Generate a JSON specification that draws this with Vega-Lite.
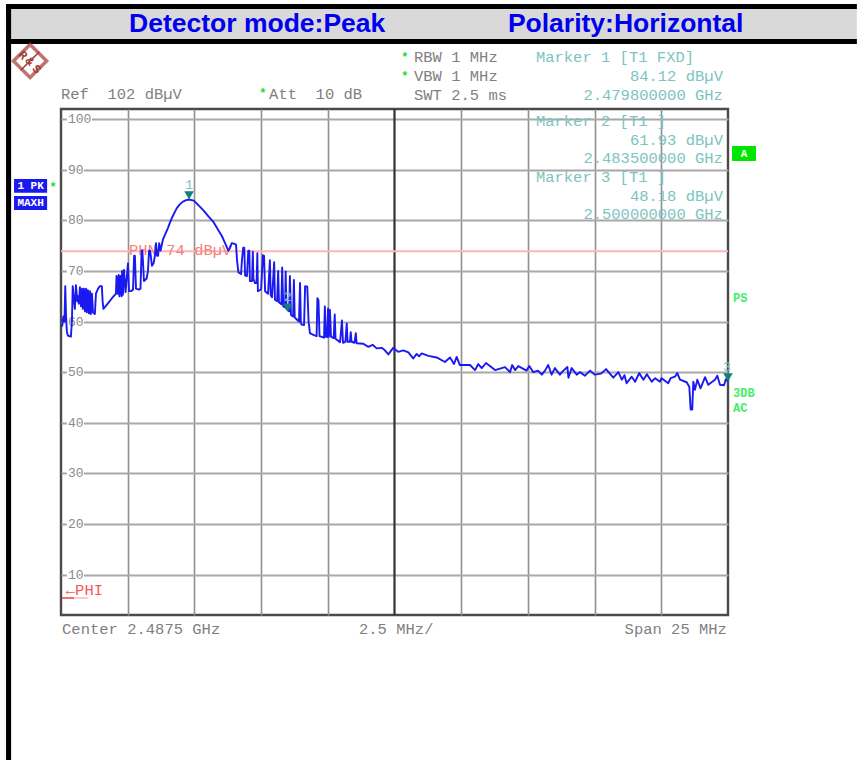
{
"$schema":"https://vega.github.io/schema/vega-lite/v6.json",
"width":667,"height":506,"autosize":"none",
"padding":{"left":61,"top":109,"right":129,"bottom":145},
"background":"white",
"config":{"view":{"stroke":"#4a4a4a","strokeWidth":2.4},"text":{"font":"Liberation Mono","fontSize":15.5,"baseline":"middle"}},
"encoding":{
"x":{"field":"mhz","type":"quantitative","title":null,"scale":{"domain":[2475,2500],"nice":false,"zero":false},"axis":{"values":[2477.5,2480,2482.5,2485,2490,2492.5,2495,2497.5],"grid":true,"gridColor":"#8f8f8f","gridWidth":1.6,"labels":false,"ticks":false,"domain":false}},
"y":{"field":"db","type":"quantitative","title":null,"scale":{"domain":[2,102],"nice":false,"zero":false},"axis":{"values":[10,20,30,40,50,60,70,80,90,100],"grid":true,"gridColor":"#a8a8a8","gridWidth":1.8,"ticks":false,"domain":false,"labels":false}}
},
"layer":[
{"data":{"values":[
{"part":"band","mhz":2473.13,"mhz2":2504.83,"db":121.76,"db2":115.83}
]},"mark":{"type":"rect","fill":"#d9d9d9"},"encoding":{"x2":{"field":"mhz2"},"y2":{"field":"db2"}}},
{"data":{"values":[
{"part":"top","mhz":2472.94,"mhz2":2504.83,"db":122.75,"db2":121.76},
{"part":"under","mhz":2472.94,"mhz2":2504.83,"db":115.83,"db2":114.85},
{"part":"left","mhz":2472.94,"mhz2":2473.13,"db":122.75,"db2":-26.66}
]},"mark":{"type":"rect","fill":"#000000"},"encoding":{"x2":{"field":"mhz2"},"y2":{"field":"db2"}}},
{"data":{"values":[
{"mhz":2475.22,"mhz2":2476.16,"db":100.9,"db2":99.1},
{"mhz":2475.22,"mhz2":2475.86,"db":90.9,"db2":89.1},
{"mhz":2475.22,"mhz2":2475.86,"db":80.9,"db2":79.1},
{"mhz":2475.22,"mhz2":2475.86,"db":70.9,"db2":69.1},
{"mhz":2475.22,"mhz2":2475.86,"db":60.9,"db2":59.1},
{"mhz":2475.22,"mhz2":2475.86,"db":50.9,"db2":49.1},
{"mhz":2475.22,"mhz2":2475.86,"db":40.9,"db2":39.1},
{"mhz":2475.22,"mhz2":2475.86,"db":30.9,"db2":29.1},
{"mhz":2475.22,"mhz2":2475.86,"db":20.9,"db2":19.1},
{"mhz":2475.22,"mhz2":2475.86,"db":10.9,"db2":9.1}
]},"mark":{"type":"rect","fill":"#ffffff"},"encoding":{"x2":{"field":"mhz2"},"y2":{"field":"db2"}}},
{"data":{"values":[
{"label":"100","mhz":2475.26,"db":100},
{"label":"90","mhz":2475.26,"db":90},
{"label":"80","mhz":2475.26,"db":80},
{"label":"70","mhz":2475.26,"db":70},
{"label":"60","mhz":2475.26,"db":60},
{"label":"50","mhz":2475.26,"db":50},
{"label":"40","mhz":2475.26,"db":40},
{"label":"30","mhz":2475.26,"db":30},
{"label":"20","mhz":2475.26,"db":20},
{"label":"10","mhz":2475.26,"db":10}
]},"mark":{"type":"text","align":"left","color":"#8a8a8a","fontSize":13},"encoding":{"text":{"field":"label"}}},
{"data":{"values":[{"mhz":2487.5,"db":2,"db2":102}]},"mark":{"type":"rule","stroke":"#333333","strokeWidth":2.2},"encoding":{"y2":{"field":"db2"}}},
{"data":{"values":[{"mhz":2475,"mhz2":2500,"db":73.9}]},"mark":{"type":"rule","stroke":"#ffb4b4","strokeWidth":2},"encoding":{"x2":{"field":"mhz2"}}},
{"data":{"values":[{"mhz":2475.04,"mhz2":2475.5,"db":5.36}]},"mark":{"type":"rule","stroke":"#f04040","strokeWidth":1.5},"encoding":{"x2":{"field":"mhz2"}}},
{"data":{"values":[{"mhz":2475.5,"mhz2":2476,"db":5.36}]},"mark":{"type":"rule","stroke":"#fbb8b8","strokeWidth":1.5},"encoding":{"x2":{"field":"mhz2"}}},
{"data":{"values":[
{"label":"PHN 74 dBµV","mhz":2477.55,"db":74.13}
]},"mark":{"type":"text","align":"left","color":"#f47f7f"},"encoding":{"text":{"field":"label"}}},
{"data":{"values":[
{"label":"←PHI","mhz":2475.18,"db":7.0}
]},"mark":{"type":"text","align":"left","color":"#f45a5a"},"encoding":{"text":{"field":"label"}}},
{"data":{"values":[
{"label":"RBW 1 MHz","mhz":2488.23,"db":112.28},
{"label":"VBW 1 MHz","mhz":2488.23,"db":108.52},
{"label":"SWT 2.5 ms","mhz":2488.23,"db":104.77},
{"label":"Ref\u00a0\u00a0102 dBµV","mhz":2475,"db":104.96},
{"label":"Att\u00a0\u00a010 dB","mhz":2482.8,"db":104.96},
{"label":"Center 2.4875 GHz","mhz":2475.04,"db":-0.77},
{"label":"2.5 MHz/","mhz":2486.17,"db":-0.77}
]},"mark":{"type":"text","align":"left","color":"#7f7f7f"},"encoding":{"text":{"field":"label"}}},
{"data":{"values":[{"label":"Span 25 MHz","mhz":2499.96,"db":-0.77}]},"mark":{"type":"text","align":"right","color":"#7f7f7f"},"encoding":{"text":{"field":"label"}}},
{"data":{"values":[
{"label":"Marker 1 [T1 FXD]","mhz":2492.8,"db":112.28},
{"label":"Marker 2 [T1 ]","mhz":2492.8,"db":99.63},
{"label":"Marker 3 [T1 ]","mhz":2492.8,"db":88.56}
]},"mark":{"type":"text","align":"left","color":"#7cc4c0"},"encoding":{"text":{"field":"label"}}},
{"data":{"values":[
{"label":"84.12 dBµV","mhz":2499.81,"db":108.52},
{"label":"2.479800000 GHz","mhz":2499.81,"db":104.77},
{"label":"61.93 dBµV","mhz":2499.81,"db":95.87},
{"label":"2.483500000 GHz","mhz":2499.81,"db":92.32},
{"label":"48.18 dBµV","mhz":2499.81,"db":84.81},
{"label":"2.500000000 GHz","mhz":2499.81,"db":81.25}
]},"mark":{"type":"text","align":"right","color":"#7cc4c0"},"encoding":{"text":{"field":"label"}}},
{"data":{"values":[
{"label":"*","mhz":2487.89,"db":112.2},
{"label":"*","mhz":2487.89,"db":108.45},
{"label":"*","mhz":2482.57,"db":105.1},
{"label":"*","mhz":2474.7,"db":86.5}
]},"mark":{"type":"text","align":"center","color":"#22dd33","fontSize":12,"fontWeight":"bold"},"encoding":{"text":{"field":"label"}}},
{"data":{"values":[
{"label":"PS","mhz":2500.19,"db":64.65},
{"label":"3DB","mhz":2500.19,"db":45.87},
{"label":"AC","mhz":2500.19,"db":42.91}
]},"mark":{"type":"text","align":"left","color":"#44ee66","fontSize":12,"fontWeight":"bold"},"encoding":{"text":{"field":"label"}}},
{"data":{"values":[
{"label":"Detector mode:Peak","mhz":2477.55,"db":118.75},
{"label":"Polarity:Horizontal","mhz":2491.75,"db":118.75}
]},"mark":{"type":"text","align":"left","font":"Liberation Sans","fontWeight":"bold","fontSize":26.5,"color":"#0000ee"},"encoding":{"text":{"field":"label"}}},
{"data":{"values":[
{"mhz":2473.24,"mhz2":2474.48,"db":88.17,"db2":85.46},
{"mhz":2473.24,"mhz2":2474.48,"db":84.81,"db2":82.04}
]},"mark":{"type":"rect","fill":"#1a1aee"},"encoding":{"x2":{"field":"mhz2"},"y2":{"field":"db2"}}},
{"data":{"values":[{"mhz":2500.15,"mhz2":2501.05,"db":94.69,"db2":91.72}]},"mark":{"type":"rect","fill":"#00e600"},"encoding":{"x2":{"field":"mhz2"},"y2":{"field":"db2"}}},
{"data":{"values":[
{"label":"1 PK","mhz":2473.86,"db":86.78},
{"label":"MAXH","mhz":2473.86,"db":83.42},
{"label":"A","mhz":2500.6,"db":93.2}
]},"mark":{"type":"text","align":"center","color":"#ffffff","fontSize":11,"fontWeight":"bold"},"encoding":{"text":{"field":"label"}}},
{"data":{"values":[{"part":"logo","mhz":2473.84,"db":111.49}]},"mark":{"type":"point","shape":"diamond","size":1100,"filled":false,"stroke":"#a33a33","strokeWidth":3.5}},
{"data":{"values":[{"mhz":2473.5,"mhz2":2474.18,"db":109.71,"db2":113.26}]},"mark":{"type":"rule","stroke":"#a33a33","strokeWidth":1.6},"encoding":{"x2":{"field":"mhz2"},"y2":{"field":"db2"}}},
{"data":{"values":[
{"label":"R","mhz":2473.58,"db":112.67},
{"label":"&","mhz":2473.84,"db":111.49},
{"label":"S","mhz":2474.1,"db":109.9}
]},"mark":{"type":"text","align":"center","color":"#a33a33","fontSize":12,"fontWeight":"bold","angle":45},"encoding":{"text":{"field":"label"}}},
{"data":{"values":[
{"mhz":2475.04,"db":59},{"mhz":2475.09,"db":61},{"mhz":2475.13,"db":60},{"mhz":2475.16,"db":67},{"mhz":2475.19,"db":61},{"mhz":2475.22,"db":58},{"mhz":2475.26,"db":57.2},{"mhz":2475.37,"db":57},{"mhz":2475.41,"db":60},{"mhz":2475.44,"db":67},{"mhz":2475.49,"db":64},{"mhz":2475.52,"db":62.5},{"mhz":2475.56,"db":67.2},{"mhz":2475.61,"db":64},{"mhz":2475.64,"db":65},{"mhz":2475.67,"db":63.5},{"mhz":2475.71,"db":66.8},{"mhz":2475.75,"db":63},{"mhz":2475.79,"db":66.5},{"mhz":2475.82,"db":62.5},{"mhz":2475.86,"db":66.5},{"mhz":2475.9,"db":62},{"mhz":2475.94,"db":66.5},{"mhz":2475.97,"db":61.8},{"mhz":2476.01,"db":66.2},{"mhz":2476.05,"db":61.6},{"mhz":2476.09,"db":66},{"mhz":2476.12,"db":61.5},{"mhz":2476.16,"db":65.5},{"mhz":2476.2,"db":61.8},{"mhz":2476.27,"db":61.5},{"mhz":2476.31,"db":65.5},{"mhz":2476.35,"db":66},{"mhz":2476.39,"db":66.5},{"mhz":2476.46,"db":67},{"mhz":2476.53,"db":67},{"mhz":2476.56,"db":64},{"mhz":2476.59,"db":62.5},{"mhz":2476.76,"db":63.6},{"mhz":2476.91,"db":64.6},{"mhz":2477.06,"db":65.5},
{"mhz":2477.08,"db":69},{"mhz":2477.12,"db":65.5},{"mhz":2477.16,"db":69.2},{"mhz":2477.19,"db":65},{"mhz":2477.23,"db":69},{"mhz":2477.27,"db":65},{"mhz":2477.29,"db":70},{"mhz":2477.32,"db":65.3},{"mhz":2477.36,"db":70.2},{"mhz":2477.42,"db":65.8},{"mhz":2477.51,"db":71.5},{"mhz":2477.55,"db":66},{"mhz":2477.62,"db":66},{"mhz":2477.7,"db":66.3},{"mhz":2477.74,"db":73},{"mhz":2477.77,"db":73},{"mhz":2477.81,"db":66.5},{"mhz":2477.92,"db":66.3},{"mhz":2477.98,"db":66.5},{"mhz":2478.02,"db":74},{"mhz":2478.05,"db":74},{"mhz":2478.11,"db":68},{"mhz":2478.21,"db":68.5},{"mhz":2478.26,"db":70},{"mhz":2478.3,"db":74},{"mhz":2478.34,"db":74},{"mhz":2478.41,"db":71},{"mhz":2478.47,"db":71.5},{"mhz":2478.52,"db":73},{"mhz":2478.56,"db":75.5},{"mhz":2478.6,"db":73},{"mhz":2478.64,"db":73},{"mhz":2478.68,"db":75.5},{"mhz":2478.73,"db":74},{"mhz":2478.82,"db":76.2},{"mhz":2479.01,"db":78.5},{"mhz":2479.08,"db":79.5},{"mhz":2479.15,"db":80.4},{"mhz":2479.34,"db":82.4},{"mhz":2479.46,"db":83.2},{"mhz":2479.57,"db":83.7},{"mhz":2479.69,"db":84},{"mhz":2479.8,"db":84.12},{"mhz":2479.98,"db":83.9},{"mhz":2480.13,"db":83.1},{"mhz":2480.33,"db":82},{"mhz":2480.51,"db":80.9},{"mhz":2480.71,"db":79.7},{"mhz":2480.88,"db":78.2},{"mhz":2481.02,"db":77},{"mhz":2481.15,"db":75.5},{"mhz":2481.27,"db":74},{"mhz":2481.33,"db":74.5},{"mhz":2481.4,"db":75.5},{"mhz":2481.48,"db":75.4},{"mhz":2481.56,"db":75.2},{"mhz":2481.6,"db":72},{"mhz":2481.65,"db":69.7},{"mhz":2481.75,"db":69.4},{"mhz":2481.78,"db":72},{"mhz":2481.83,"db":74.6},{"mhz":2481.87,"db":74.6},{"mhz":2481.9,"db":69.1},{"mhz":2481.97,"db":69},{"mhz":2482.02,"db":74},{"mhz":2482.06,"db":74},{"mhz":2482.08,"db":68},{"mhz":2482.16,"db":68},{"mhz":2482.19,"db":73.8},{"mhz":2482.21,"db":68.5},{"mhz":2482.27,"db":67.6},{"mhz":2482.33,"db":67.6},{"mhz":2482.36,"db":73.5},{"mhz":2482.38,"db":66},{"mhz":2482.46,"db":66.2},{"mhz":2482.5,"db":66.4},{"mhz":2482.57,"db":73.1},{"mhz":2482.61,"db":73},{"mhz":2482.65,"db":66},{"mhz":2482.76,"db":65.5},{"mhz":2482.83,"db":72.1},{"mhz":2482.86,"db":65.2},{"mhz":2482.91,"db":64.8},{"mhz":2482.99,"db":71.7},{"mhz":2483.02,"db":64.3},{"mhz":2483.1,"db":64},{"mhz":2483.14,"db":70},{"mhz":2483.17,"db":63.8},{"mhz":2483.26,"db":63.4},{"mhz":2483.29,"db":70.7},{"mhz":2483.33,"db":63},{"mhz":2483.4,"db":62.8},{"mhz":2483.42,"db":69.9},{"mhz":2483.45,"db":62.5},{"mhz":2483.55,"db":62},{"mhz":2483.58,"db":69},{"mhz":2483.62,"db":61.3},{"mhz":2483.7,"db":61},{"mhz":2483.73,"db":68.2},{"mhz":2483.76,"db":60.8},{"mhz":2483.92,"db":60},{"mhz":2483.96,"db":67.6},{"mhz":2483.99,"db":59.8},{"mhz":2484.02,"db":59.4},{"mhz":2484.11,"db":59.3},{"mhz":2484.15,"db":67},{"mhz":2484.23,"db":66.9},{"mhz":2484.28,"db":60},{"mhz":2484.33,"db":57.7},{"mhz":2484.48,"db":57.3},{"mhz":2484.58,"db":57.1},{"mhz":2484.61,"db":64.6},{"mhz":2484.65,"db":64.2},{"mhz":2484.69,"db":57.1},{"mhz":2484.86,"db":56.8},{"mhz":2484.89,"db":63},{"mhz":2484.92,"db":57},{"mhz":2484.97,"db":56.9},{"mhz":2485.01,"db":62.6},{"mhz":2485.04,"db":57},{"mhz":2485.08,"db":62.3},{"mhz":2485.12,"db":57},{"mhz":2485.22,"db":56.7},{"mhz":2485.26,"db":61.4},{"mhz":2485.29,"db":56.6},{"mhz":2485.46,"db":55.9},{"mhz":2485.53,"db":60.2},{"mhz":2485.57,"db":55.8},{"mhz":2485.66,"db":56},{"mhz":2485.71,"db":59.6},{"mhz":2485.74,"db":56},{"mhz":2485.83,"db":56},{"mhz":2485.86,"db":57.9},{"mhz":2485.89,"db":56},{"mhz":2486,"db":55.8},{"mhz":2486.05,"db":57.7},{"mhz":2486.08,"db":55.7},{"mhz":2486.33,"db":55.6},{"mhz":2486.52,"db":55},{"mhz":2486.68,"db":55.4},{"mhz":2486.83,"db":54.7},{"mhz":2487.02,"db":54.8},{"mhz":2487.14,"db":54.3},{"mhz":2487.27,"db":53.5},{"mhz":2487.45,"db":54.8},{"mhz":2487.64,"db":54},{"mhz":2487.83,"db":54.3},{"mhz":2488.02,"db":53.9},{"mhz":2488.2,"db":52.7},{"mhz":2488.33,"db":53.6},{"mhz":2488.42,"db":53.1},{"mhz":2488.52,"db":53.7},{"mhz":2488.77,"db":53.2},{"mhz":2489.08,"db":52.9},{"mhz":2489.39,"db":52},{"mhz":2489.58,"db":52.9},{"mhz":2489.73,"db":51.6},{"mhz":2489.83,"db":53},{"mhz":2489.95,"db":51.4},{"mhz":2490.33,"db":51.4},{"mhz":2490.52,"db":50.4},{"mhz":2490.64,"db":51.6},{"mhz":2490.77,"db":50.8},{"mhz":2490.93,"db":51.8},{"mhz":2491.27,"db":50.4},{"mhz":2491.64,"db":51},{"mhz":2491.83,"db":50},{"mhz":2491.91,"db":51.4},{"mhz":2492.02,"db":50.4},{"mhz":2492.14,"db":51.2},{"mhz":2492.45,"db":50.3},{"mhz":2492.55,"db":51.2},{"mhz":2492.7,"db":50},{"mhz":2492.88,"db":50.3},{"mhz":2493.02,"db":49.5},{"mhz":2493.14,"db":50.3},{"mhz":2493.26,"db":51.4},{"mhz":2493.39,"db":49.5},{"mhz":2493.51,"db":50.8},{"mhz":2493.7,"db":49.5},{"mhz":2493.81,"db":50.2},{"mhz":2493.98,"db":51},{"mhz":2494.02,"db":48.9},{"mhz":2494.14,"db":50.8},{"mhz":2494.33,"db":49.5},{"mhz":2494.45,"db":50},{"mhz":2494.64,"db":49.3},{"mhz":2494.83,"db":50.3},{"mhz":2495.01,"db":49.5},{"mhz":2495.24,"db":49.7},{"mhz":2495.43,"db":50.6},{"mhz":2495.7,"db":48.9},{"mhz":2495.89,"db":50},{"mhz":2496.02,"db":48.5},{"mhz":2496.12,"db":49.4},{"mhz":2496.2,"db":47.8},{"mhz":2496.39,"db":49.1},{"mhz":2496.52,"db":48.1},{"mhz":2496.67,"db":49.8},{"mhz":2496.83,"db":48.5},{"mhz":2496.96,"db":49.6},{"mhz":2497.14,"db":48.1},{"mhz":2497.27,"db":48.8},{"mhz":2497.45,"db":48.1},{"mhz":2497.51,"db":48.8},{"mhz":2497.76,"db":47.8},{"mhz":2497.85,"db":48.8},{"mhz":2498.01,"db":49.1},{"mhz":2498.1,"db":49.8},{"mhz":2498.2,"db":48.5},{"mhz":2498.45,"db":48},{"mhz":2498.55,"db":47.1},{"mhz":2498.6,"db":42.6},{"mhz":2498.66,"db":42.6},{"mhz":2498.7,"db":48.1},{"mhz":2498.76,"db":46.5},{"mhz":2498.85,"db":48.5},{"mhz":2498.97,"db":46.8},{"mhz":2499.14,"db":49},{"mhz":2499.26,"db":47.5},{"mhz":2499.51,"db":48.5},{"mhz":2499.6,"db":49.3},{"mhz":2499.7,"db":47.5},{"mhz":2499.85,"db":47.4},{"mhz":2499.92,"db":48.6},{"mhz":2499.99,"db":48.18}
]},"mark":{"type":"line","stroke":"#1a1af0","strokeWidth":1.9,"strokeJoin":"round"}},
{"data":{"values":[
{"marker":"1","mhz":2479.8,"db":84.12},
{"marker":"2","mhz":2483.5,"db":61.93},
{"marker":"3","mhz":2500,"db":48.18}
]},"mark":{"type":"point","shape":"triangle-down","filled":true,"size":90,"fill":"#117f7a","opacity":1,"yOffset":-4}},
{"data":{"values":[
{"label":"1","mhz":2479.8,"db":86.98},
{"label":"2","mhz":2483.5,"db":64.85},
{"label":"3","mhz":2499.96,"db":51.01}
]},"mark":{"type":"text","align":"center","color":"#7cc4c0","fontSize":13},"encoding":{"text":{"field":"label"}}}
]
}
